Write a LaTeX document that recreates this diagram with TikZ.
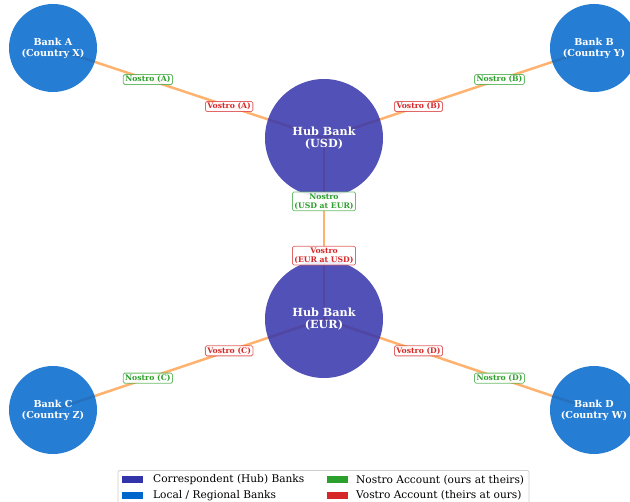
\documentclass[tikz,border=0pt]{standalone}
\usepackage{fontspec}
\setmainfont{DejaVu Serif}
\definecolor{hubc}{HTML}{3333AA}
\definecolor{locc}{HTML}{0066CC}
\definecolor{nosc}{HTML}{2CA02C}
\definecolor{vosc}{HTML}{D62728}
\definecolor{edgc}{HTML}{FF7F0E}
\tikzset{
  hub/.style={circle, inner sep=0pt, minimum size=118pt, fill=hubc, fill opacity=0.85, text opacity=1, text=white, align=center, font=\bfseries\fontsize{11.2}{12.5}\selectfont},
  loc/.style={circle, inner sep=0pt, minimum size=88pt, fill=locc, fill opacity=0.85, text opacity=1, text=white, align=center, font=\bfseries\fontsize{9.6}{11}\selectfont},
  link/.style={draw=edgc, draw opacity=0.6, line width=2.5pt},
  acct/.style={draw opacity=0.7, fill=white, fill opacity=0.9, text opacity=1, rounded corners=1.5pt, line width=0.8pt, inner xsep=2pt, inner ysep=1.5pt, align=center, font=\bfseries\fontsize{7.7}{9}\selectfont},
  nos/.style={acct, draw=nosc, text=nosc},
  vos/.style={acct, draw=vosc, text=vosc},
  patch/.style={minimum width=21pt, minimum height=7pt, inner sep=0pt},
  legtxt/.style={anchor=west, inner sep=0pt, font=\fontsize{10.6}{12}\selectfont},
}
\begin{document}
\begin{tikzpicture}[x=1pt, y=-1pt]
\useasboundingbox (0,0) rectangle (630,502);
\clip (0,0) rectangle (630,502);
% node positions
\coordinate (pA) at (53,48);
\coordinate (pB) at (594,48);
\coordinate (pC) at (53,410);
\coordinate (pD) at (594,410);
\coordinate (pU) at (324,138);
\coordinate (pE) at (324,319);
% connectors (drawn first, behind the circles)
\draw[link] (pA) -- (pU);
\draw[link] (pB) -- (pU);
\draw[link] (pU) -- (pE);
\draw[link] (pC) -- (pE);
\draw[link] (pD) -- (pE);
% banks
\node[hub] (hubU) at (pU) {Hub Bank\\(USD)};
\node[hub] (hubE) at (pE) {Hub Bank\\(EUR)};
\node[loc] (bankA) at (pA) {Bank A\\(Country X)};
\node[loc] (bankB) at (pB) {Bank B\\(Country Y)};
\node[loc] (bankC) at (pC) {Bank C\\(Country Z)};
\node[loc] (bankD) at (pD) {Bank D\\(Country W)};
% account labels
\path (bankA.center) -- (hubU.center)
  node[nos, pos=0.35] (nA) {Nostro (A)}
  node[vos, pos=0.65] (vA) {Vostro (A)};
\path (bankB.center) -- (hubU.center)
  node[nos, pos=0.35] (nB) {Nostro (B)}
  node[vos, pos=0.65] (vB) {Vostro (B)};
\path (hubU.center) -- (hubE.center)
  node[nos, pos=0.35] (nUE) {Nostro\\(USD at EUR)}
  node[vos, pos=0.65] (vEU) {Vostro\\(EUR at USD)};
\path (bankC.center) -- (hubE.center)
  node[nos, pos=0.35] (nC) {Nostro (C)}
  node[vos, pos=0.65] (vC) {Vostro (C)};
\path (bankD.center) -- (hubE.center)
  node[nos, pos=0.35] (nD) {Nostro (D)}
  node[vos, pos=0.65] (vD) {Vostro (D)};
% legend
\draw[draw=black!20, fill=white, fill opacity=0.8, rounded corners=2pt, line width=0.8pt] (118,470.5) rectangle (529,512);
\node[patch, fill=hubc] (lp1) at (132.5,480) {};
\node[patch, fill=locc] (lp2) at (132.5,495.5) {};
\node[patch, fill=nosc] (lp3) at (337,480) {};
\node[patch, fill=vosc] (lp4) at (337,495.5) {};
\node[legtxt] (lt1) at (153,480) {Correspondent (Hub) Banks};
\node[legtxt] (lt2) at (153,495.5) {Local / Regional Banks};
\node[legtxt] (lt3) at (356,480) {Nostro Account (ours at theirs)};
\node[legtxt] (lt4) at (356,495.5) {Vostro Account (theirs at ours)};
\end{tikzpicture}
\end{document}
